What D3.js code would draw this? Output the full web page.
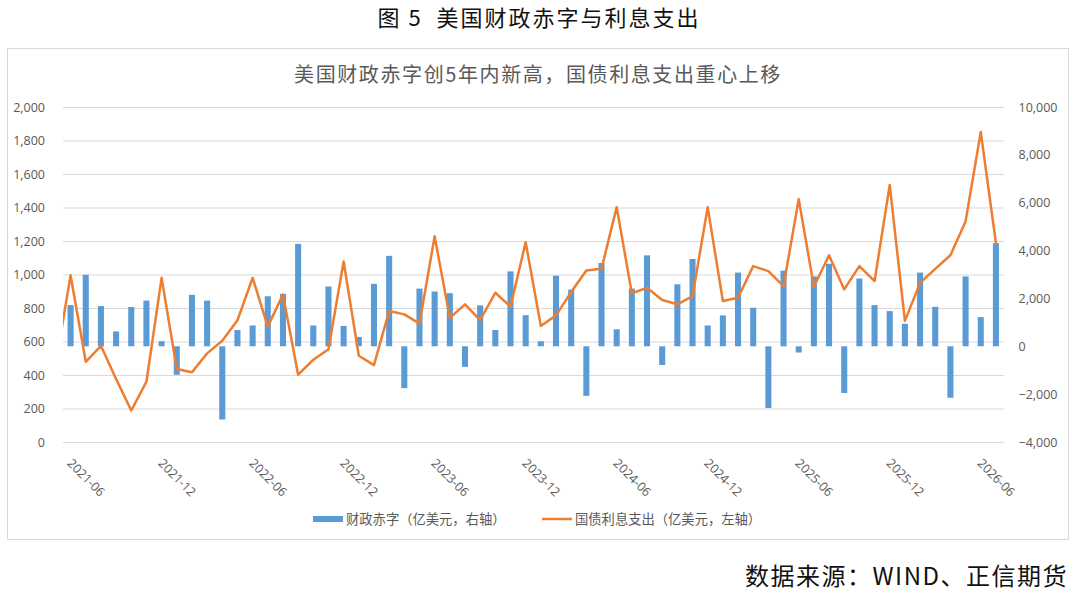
<!DOCTYPE html>
<html>
<head>
<meta charset="utf-8">
<script src="https://cdn.jsdelivr.net/npm/d3@7/dist/d3.min.js"></script>
<style>
    body { margin: 0; background: #fff; }
    svg { display: block; font-family: "Noto Sans CJK SC", "Noto Sans", sans-serif; }
</style>
</head>
<body>
<svg id="o-chart" width="1080" height="594"></svg>
<script>
// months on the category axis (2021-06 .. 2026-07)
let months = [
    "2021-06", "2021-07", "2021-08", "2021-09", "2021-10", "2021-11", "2021-12",
    "2022-01", "2022-02", "2022-03", "2022-04", "2022-05", "2022-06", "2022-07",
    "2022-08", "2022-09", "2022-10", "2022-11", "2022-12",
    "2023-01", "2023-02", "2023-03", "2023-04", "2023-05", "2023-06", "2023-07",
    "2023-08", "2023-09", "2023-10", "2023-11", "2023-12",
    "2024-01", "2024-02", "2024-03", "2024-04", "2024-05", "2024-06", "2024-07",
    "2024-08", "2024-09", "2024-10", "2024-11", "2024-12",
    "2025-01", "2025-02", "2025-03", "2025-04", "2025-05", "2025-06", "2025-07",
    "2025-08", "2025-09", "2025-10", "2025-11", "2025-12",
    "2026-01", "2026-02", "2026-03", "2026-04", "2026-05", "2026-06", "2026-07"
];

let tickLabels = [
    "2021-06", "2021-12", "2022-06", "2022-12", "2023-06", "2023-12",
    "2024-06", "2024-12", "2025-06", "2025-12", "2026-06"
];

// 财政赤字 (bars, right axis)
let deficit = [
    1720, 2990, 1680, 620, 1640, 1910, 210,
    -1190, 2150, 1910, -3060, 680, 870, 2090,
    2190, 4280, 870, 2500, 850,
    390, 2610, 3780, -1750, 2410, 2290, 2220,
    -860, 1710, 680, 3130, 1300,
    210, 2950, 2370, -2070, 3480, 710, 2410,
    3800, -780, 2590, 3650, 870,
    1290, 3080, 1610, -2580, 3160, -260, 2920,
    3450, -1950, 2830, 1720, 1470,
    940, 3080, 1650, -2150, 2920, 1220, 4310
];

// 国债利息支出 (line, left axis); the line enters from 2021-05, outside the plot
let interestBefore = { month: "2021-05", value: 450 };
let interest = [
    996, 479, 574, 376, 188, 360, 980,
    436, 416, 529, 604, 727, 980, 689,
    881, 402, 491, 554, 1078,
    515, 459, 782, 762, 707, 1228, 741,
    822, 727, 891, 808, 1192,
    693, 756, 895, 1024, 1034, 1402, 887,
    921, 848, 822, 871, 1402,
    842, 861, 1050, 1020, 931, 1450, 927,
    1115, 911, 1050, 960, 1535,
    723, 950, 1034, 1115, 1317, 1851, 1188
];

let leftTicks = [0, 200, 400, 600, 800, 1000, 1200, 1400, 1600, 1800, 2000];
let rightTicks = [-4000, -2000, 0, 2000, 4000, 6000, 8000, 10000];

let chartTitle = "美国财政赤字创5年内新高，国债利息支出重心上移";
let figureTitle = "图 5  美国财政赤字与利息支出";
let sourceText = "数据来源：WIND、正信期货";
let legendItems = ["财政赤字（亿美元，右轴）", "国债利息支出（亿美元，左轴）"];

let BAR_COLOR = "#5b9bd5";
let LINE_COLOR = "#ed7d31";
let TEXT_COLOR = "#595959";

function drawChart(selector) {
    let svg = d3.select(selector);
    let plot = { left: 63, right: 1003.5, top: 107, bottom: 442 };

    // figure title above the frame
    svg.append("text")
        .attr("x", 539)
        .attr("y", 18)
        .attr("dy", "0.36em")
        .attr("text-anchor", "middle")
        .attr("fill", "#111")
        .attr("xml:space", "preserve")
        .style("white-space", "pre")
        .style("font-size", "22px")
        .style("letter-spacing", "2px")
        .text(figureTitle);

    // chart frame
    svg.append("rect")
        .attr("x", 7.5)
        .attr("y", 48.5)
        .attr("width", 1061)
        .attr("height", 491)
        .attr("fill", "#fff")
        .attr("stroke", "#d9d9d9");

    svg.append("text")
        .attr("x", 538)
        .attr("y", 75)
        .attr("dy", "0.36em")
        .attr("text-anchor", "middle")
        .attr("fill", TEXT_COLOR)
        .style("font-size", "20px")
        .style("letter-spacing", "1.6px")
        .text(chartTitle);

    let x = d3.scaleBand()
        .domain(months)
        .range([plot.left, plot.right])
        .paddingInner(0)
        .paddingOuter(0);

    let yLeft = d3.scaleLinear()
        .domain([0, 2000])
        .range([plot.bottom, plot.top]);

    let yRight = d3.scaleLinear()
        .domain([-4000, 10000])
        .range([plot.bottom, plot.top]);

    // gridlines follow the left axis
    svg.append("g")
        .selectAll("line")
        .data(leftTicks)
        .join("line")
        .attr("x1", plot.left)
        .attr("x2", plot.right)
        .attr("y1", d => yLeft(d) + 0.5)
        .attr("y2", d => yLeft(d) + 0.5)
        .attr("stroke", "#d9d9d9")
        .attr("stroke-width", 1);

    // left axis
    let leftAxis = svg.append("g")
        .attr("transform", "translate(" + (plot.left - 15) + ",0)")
        .call(d3.axisLeft(yLeft).tickValues(leftTicks).tickSize(0).tickFormat(d3.format(",")));
    leftAxis.select(".domain").remove();

    // right axis
    let rightAxis = svg.append("g")
        .attr("transform", "translate(" + (plot.right + 12) + ",0)")
        .call(d3.axisRight(yRight).tickValues(rightTicks).tickSize(0).tickFormat(d3.format(",")));
    rightAxis.select(".domain").remove();

    svg.selectAll(".tick text")
        .attr("fill", TEXT_COLOR)
        .style("font-size", "12.5px")
        .style("font-family", "'Open Sans', 'Noto Sans', sans-serif");

    // rotated month labels
    svg.append("g")
        .selectAll("text")
        .data(tickLabels)
        .join("text")
        .attr("transform", d => "translate(" + (x(d) + x.bandwidth() / 2 - 1) + ",461) rotate(45)")
        .attr("dy", "0.35em")
        .attr("text-anchor", "start")
        .attr("fill", TEXT_COLOR)
        .style("font-size", "12.5px")
        .style("font-family", "'Open Sans', 'Noto Sans', sans-serif")
        .text(d => d);

    // bars
    let barWidth = x.bandwidth() * 0.4;
    svg.append("g")
        .selectAll("rect")
        .data(deficit)
        .join("rect")
        .attr("x", (d, i) => x(months[i]) + (x.bandwidth() - barWidth) / 2)
        .attr("y", d => yRight(Math.max(0, d)))
        .attr("width", barWidth)
        .attr("height", d => Math.abs(yRight(d) - yRight(0)))
        .attr("fill", BAR_COLOR);

    // line, clipped to the plot so the leading segment starts at the edge
    svg.append("clipPath")
        .attr("id", "plot-clip")
        .append("rect")
        .attr("x", plot.left)
        .attr("y", 0)
        .attr("width", plot.right - plot.left)
        .attr("height", 594);

    let points = [{ x: x(months[0]) - x.step() + x.bandwidth() / 2, v: interestBefore.value }];
    for (let i = 0; i < interest.length; i++) {
        points.push({ x: x(months[i]) + x.bandwidth() / 2, v: interest[i] });
    }

    let line = d3.line()
        .x(d => d.x)
        .y(d => yLeft(d.v));

    svg.append("path")
        .datum(points)
        .attr("clip-path", "url(#plot-clip)")
        .attr("fill", "none")
        .attr("stroke", LINE_COLOR)
        .attr("stroke-width", 2.5)
        .attr("stroke-linejoin", "round")
        .attr("stroke-linecap", "round")
        .attr("d", line);

    // legend
    let legend = svg.append("g").style("font-size", "13.3px");
    legend.append("rect")
        .attr("x", 313)
        .attr("y", 516)
        .attr("width", 30)
        .attr("height", 6)
        .attr("fill", BAR_COLOR);
    legend.append("text")
        .attr("x", 346)
        .attr("y", 519)
        .attr("dy", "0.35em")
        .attr("fill", TEXT_COLOR)
        .text(legendItems[0]);
    legend.append("line")
        .attr("x1", 542)
        .attr("x2", 572)
        .attr("y1", 519)
        .attr("y2", 519)
        .attr("stroke", LINE_COLOR)
        .attr("stroke-width", 2.5);
    legend.append("text")
        .attr("x", 575)
        .attr("y", 519)
        .attr("dy", "0.35em")
        .attr("fill", TEXT_COLOR)
        .text(legendItems[1]);

    // data source, bottom right
    svg.append("text")
        .attr("x", 1068)
        .attr("y", 576)
        .attr("dy", "0.36em")
        .attr("text-anchor", "end")
        .attr("fill", "#111")
        .style("font-size", "24px")
        .style("letter-spacing", "1.5px")
        .text(sourceText);
}

drawChart("#o-chart");
</script>
</body>
</html>
